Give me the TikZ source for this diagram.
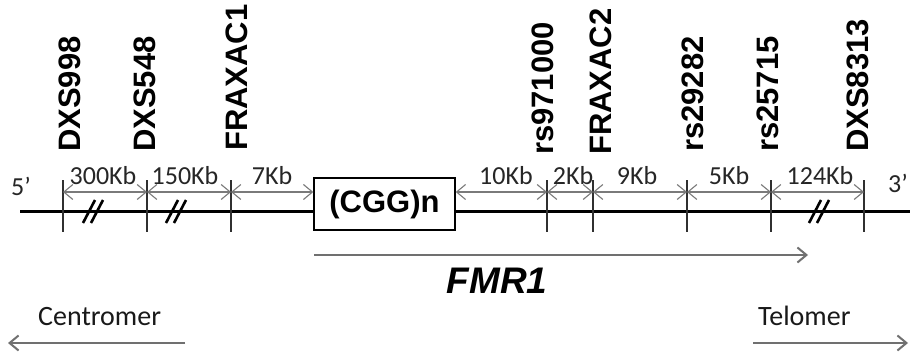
\documentclass[tikz,border=0pt]{standalone}
\usepackage{fontspec}
\setmainfont{Carlito}
\newfontfamily\arialf{Liberation Sans}
\usetikzlibrary{arrows.meta}
\definecolor{dimgray}{HTML}{7A7A7A}
\definecolor{arrgray}{HTML}{707070}
\definecolor{tickgray}{HTML}{303030}
\begin{document}
\begin{tikzpicture}[x=1pt,y=-1pt,
  mainline/.style={line width=3pt,black},
  tickline/.style={line width=1.1pt,tickgray},
  dimline/.style={line width=1.1pt,dimgray,{Straight Barb[length=9pt,width=15pt]}-{Straight Barb[length=9pt,width=15pt]}},
  dimlab/.style={inner sep=0pt,anchor=base,text=black!85,font=\fontsize{26}{26}\selectfont},
  vlab/.style={inner sep=0pt,anchor=base west,rotate=90,font=\arialf\bfseries\fontsize{31}{31}\selectfont},
  brk/.style={line width=2.6pt,black},
  bigarrow/.style={line width=2pt,arrgray,-{Straight Barb[length=9pt,width=15pt]}},
  sidelab/.style={inner sep=0pt,anchor=base west,text=black!90,font=\fontsize{28}{28}\selectfont}]
\useasboundingbox (0,0) rectangle (910,353);
\fill[white] (0,0) rectangle (910,353);
% main line
\coordinate (lstart) at (20,211);
\coordinate (lend) at (915,211);
\draw[mainline] (lstart) -- (lend);
% ticks
\foreach \i/\x in {1/63,2/147,3/231,4/547,5/593,6/687,7/771,8/864}{
  \coordinate (top\i) at (\x,180);
  \coordinate (bot\i) at (\x,232);
  \coordinate (d\i) at (\x,192);
  \draw[tickline] (top\i) -- (bot\i);
}
% box
\node[draw,line width=1.4pt,fill=white,minimum width=141pt,minimum height=52pt,inner sep=0pt,
  font=\arialf\bfseries\fontsize{31}{31}\selectfont] (cgg) at (384.5,204) {(CGG)n};
% dimension arrows
\draw[dimline] (d1) -- (d2);
\draw[dimline] (d2) -- (d3);
\draw[dimline] (d3) -- (d3 -| cgg.west);
\draw[dimline] (d4 -| cgg.east) -- (d4);
\draw[dimline] (d4) -- (d5);
\draw[dimline] (d5) -- (d6);
\draw[dimline] (d6) -- (d7);
\draw[dimline] (d7) -- (d8);
% dimension labels
\node[dimlab] (k1) at (103,184) {300Kb};
\node[dimlab] (k2) at (185,184) {150Kb};
\node[dimlab] (k3) at (272,184) {7Kb};
\node[dimlab] (k4) at (506,184) {10Kb};
\node[dimlab] (k5) at (573,184) {2Kb};
\node[dimlab] (k6) at (637,184) {9Kb};
\node[dimlab] (k7) at (729,184) {5Kb};
\node[dimlab] (k8) at (820,184) {124Kb};
% ends
\node[dimlab] (five) at (21,195) {5’};
\node[dimlab] (three) at (898,192) {3’};
% break marks
\foreach \c in {92,175,818}{
  \draw[brk] (\c-9,223) -- (\c+3,200);
  \draw[brk] (\c-1,223) -- (\c+11,200);
}
% vertical labels
\node[vlab] (m1) at (80,152) {DXS998};
\node[vlab] (m2) at (155,152) {DXS548};
\node[vlab] (m3) at (247,151) {FRAXAC1};
\node[vlab] (m4) at (553,155) {rs971000};
\node[vlab] (m5) at (611,155) {FRAXAC2};
\node[vlab] (m6) at (703,152) {rs29282};
\node[vlab] (m7) at (778,152) {rs25715};
\node[vlab] (m8) at (868,152) {DXS8313};
% FMR1
\coordinate (fs) at (314,255);
\coordinate (fe) at (808,255);
\draw[bigarrow] (fs) -- (fe);
\node[inner sep=0pt,anchor=base,font=\arialf\bfseries\itshape\fontsize{37}{37}\selectfont] (fmr) at (497,293) {FMR1};
% centromer / telomer
\node[sidelab] (cen) at (38,325) {Centromer};
\node[sidelab] (tel) at (758,325) {Telomer};
\coordinate (cs) at (185,343);
\coordinate (ce) at (8,343);
\coordinate (ts) at (753,343);
\coordinate (te) at (908,343);
\draw[bigarrow] (cs) -- (ce);
\draw[bigarrow] (ts) -- (te);
\end{tikzpicture}
\end{document}
